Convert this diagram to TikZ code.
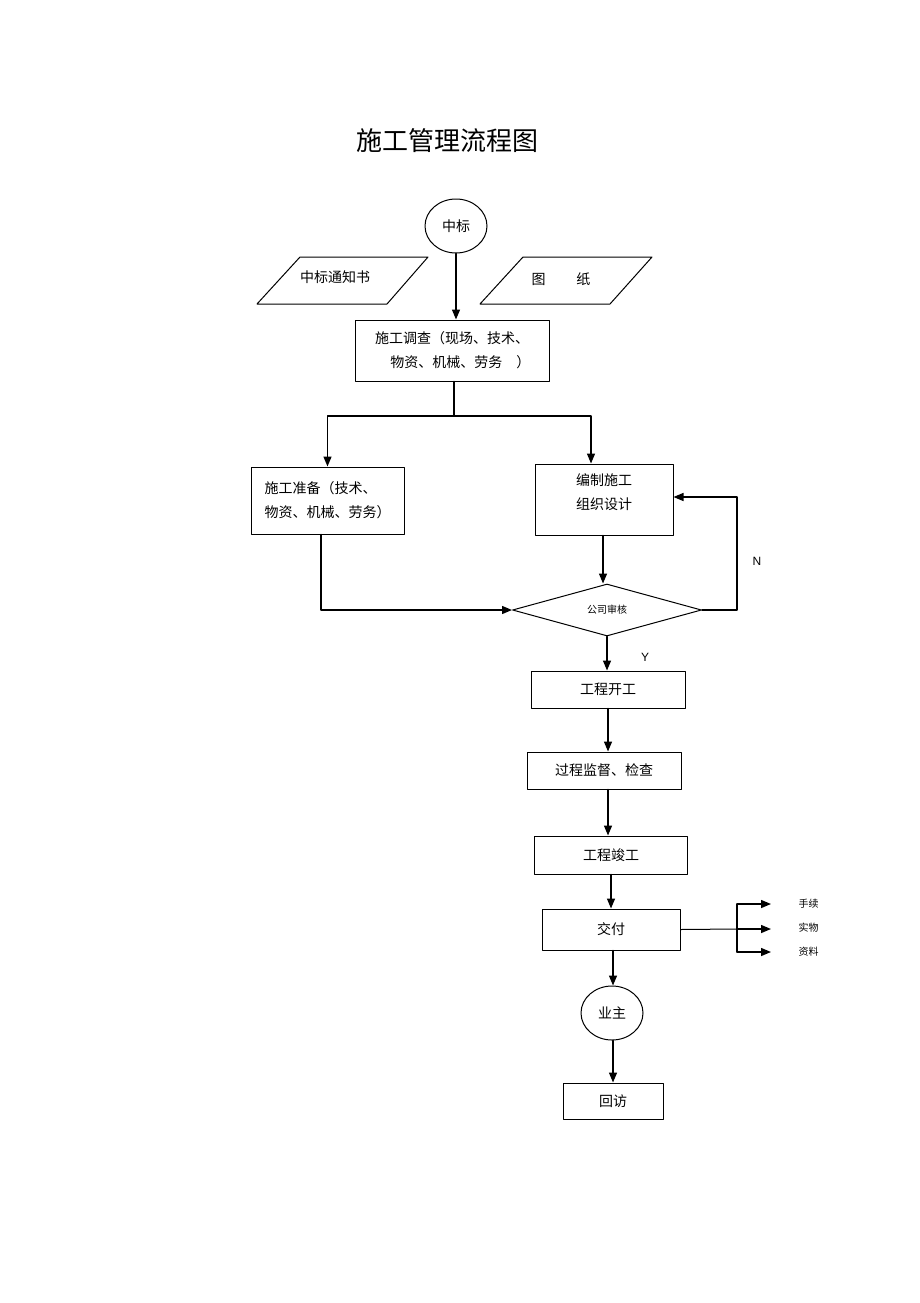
\documentclass[tikz,border=0pt]{standalone}
\usepackage{fontspec}
\newfontfamily\cjk{Noto Sans CJK SC}
\newfontfamily\lat{Liberation Sans}
\usetikzlibrary{arrows.meta, shapes.geometric}
\tikzset{>={Triangle[length=10pt,width=8pt]}}
\tikzset{box/.style={draw, line width=1pt, rectangle, inner sep=0pt, font=\cjk\fontsize{14}{24}\selectfont, align=center}}
\tikzset{term/.style={draw, line width=1pt, ellipse, inner sep=0pt, minimum width=62pt, minimum height=54pt, font=\cjk\fontsize{14}{18}\selectfont}}
\tikzset{flow/.style={line width=1.4pt, ->}}
\tikzset{small/.style={font=\cjk\fontsize{10}{12}\selectfont}}

\begin{document}
\begin{tikzpicture}[line cap=round,line join=round,x=1pt,y=-1pt]
\useasboundingbox (0,0) rectangle (920,1303);

\node (title) at (447,141) {\cjk\fontsize{26}{30}\selectfont 施工管理流程图};

% start
\node[term] (win) at (456,226) {中标};

% documents
\draw[line width=1pt] (300,257) -- (428,257) -- (387,304) -- (257,304) -- cycle;
\node[font=\cjk\fontsize{14}{18}\selectfont] (notice) at (335,277) {中标通知书};
\draw[line width=1pt] (523,257) -- (652,257) -- (610,304) -- (480,304) -- cycle;
\node[font=\cjk\fontsize{14}{18}\selectfont] (drawing) at (561,279) {图\hspace{2.2em}纸};

\node[box, minimum width=194pt, minimum height=61pt] (survey) at (452,350.5)
 {施工调查（现场、技术、\\\hspace{1.2em}物资、机械、劳务\quad ）};
\node[box, minimum width=153pt, minimum height=67pt, align=left] (prep) at (327.5,500.5)
 {施工准备（技术、\\物资、机械、劳务）};
\node[box, minimum width=138pt, minimum height=71pt, text depth=16pt] (design) at (604,499.5)
 {编制施工\\组织设计};
\node[draw, line width=1pt, diamond, inner sep=0pt, aspect=3.6, minimum width=189pt, minimum height=52pt, small] (check) at (607,610) {公司审核};

\node[box, minimum width=154pt, minimum height=37pt] (start) at (608,689.5) {工程开工};
\node[box, minimum width=154pt, minimum height=37pt] (super) at (604,770.5) {过程监督、检查};
\node[box, minimum width=153pt, minimum height=38pt] (done) at (611,855) {工程竣工};
\node[box, minimum width=138pt, minimum height=41pt] (hand) at (611,929.5) {交付};
\node[term] (owner) at (612,1013) {业主};
\node[box, minimum width=100pt, minimum height=36pt] (visit) at (613,1101) {回访};

% outputs of handover
\node[small, anchor=west] (proc) at (795,904) {手续};
\node[small, anchor=west] (goods) at (795,928) {实物};
\node[small, anchor=west] (data) at (795,952) {资料};
\coordinate (hb) at (737,929);

\node[font=\lat\fontsize{12}{14}\selectfont] (no) at (757,561) {N};
\node[font=\lat\fontsize{12}{14}\selectfont] (yes) at (645,657) {Y};

\coordinate (split) at (454,416);
\coordinate (sR) at (591,416);
\coordinate (nb) at (737,497);

\draw[flow] (win.south) -- (survey.north -| win.south);
\draw[flow] (survey.south -| split) -- (split) -| (prep.north);
\draw[flow] (split) -- (sR) -- (design.north -| sR);
\draw[flow] (design.south -| 603,0) -- (check.north -| 603,0);
\draw[flow] (prep.south -| 321,0) |- (check.west);
\draw[flow] (check.east) -| (nb) -- (design.east |- nb);
\draw[flow] (check.south) -- (start.north -| check.south);
\draw[flow] (start.south) -- (super.north -| start.south);
\draw[flow] (super.south -| start.south) -- (done.north -| start.south);
\draw[flow] (done.south) -- (hand.north -| done.south);
\draw[flow] (hand.south -| 613,0) -- (owner.north -| 613,0);
\draw[flow] (owner.south -| 613,0) -- (visit.north -| 613,0);
\draw[line width=1pt] (hand.east) -- (hb);
\draw[line width=1.2pt] (hb |- proc) -- (hb |- data);
\draw[flow] (hb |- proc) -- (771,904);
\draw[flow] (hb) -- (771,929);
\draw[flow] (hb |- data) -- (771,952);

\end{tikzpicture}
\end{document}
